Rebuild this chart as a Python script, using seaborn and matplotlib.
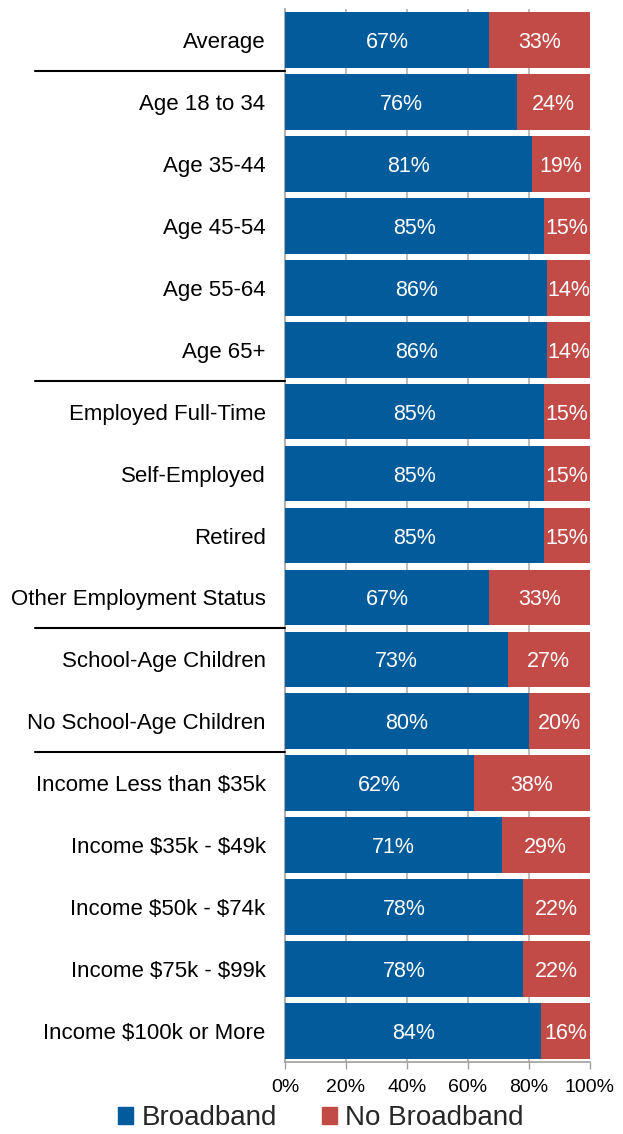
import matplotlib
matplotlib.use("Agg")
import matplotlib.pyplot as plt
import matplotlib.transforms as mtransforms
from matplotlib.patches import Patch
import seaborn as sns
import pandas as pd

categories = ["Average", "Age 18 to 34", "Age 35-44", "Age 45-54", "Age 55-64", "Age 65+",
              "Employed Full-Time", "Self-Employed", "Retired", "Other Employment Status",
              "School-Age Children", "No School-Age Children",
              "Income Less than $35k", "Income $35k - $49k", "Income $50k - $74k",
              "Income $75k - $99k", "Income $100k or More"]
broadband = [67, 76, 81, 85, 86, 86, 85, 85, 85, 67, 73, 80, 62, 71, 78, 78, 84]
no_broadband = [33, 24, 19, 15, 14, 14, 15, 15, 15, 33, 27, 20, 38, 29, 22, 22, 16]
x_ticks = [0, 20, 40, 60, 80, 100]
x_tick_labels = ["0%", "20%", "40%", "60%", "80%", "100%"]
group_breaks = [1, 6, 10, 12]  # index of first row of each new group

BLUE = "#025b9b"
RED = "#c24b47"

sns.set_theme(style="white")
plt.rcParams["font.family"] = ["Liberation Sans", "DejaVu Sans"]
plt.rcParams["text.parse_math"] = False

df = pd.DataFrame({"cat": categories, "bb": broadband, "nb": no_broadband})
df["total"] = df["bb"] + df["nb"]

fig = plt.figure(figsize=(6.23, 11.34), dpi=100)
ax = fig.add_axes([285 / 623, 72 / 1134, 305 / 623, (1125 - 72) / 1134])

for x in [20, 40, 60, 80]:
    ax.axvline(x, color="#b0b0b0", lw=1.2, zorder=0)

sns.barplot(data=df, y="cat", x="total", color=RED, orient="h", width=0.9,
            ax=ax, saturation=1, zorder=2, linewidth=0)
sns.barplot(data=df, y="cat", x="bb", color=BLUE, orient="h", width=0.9,
            ax=ax, saturation=1, zorder=3, linewidth=0)

for i, (b, n) in enumerate(zip(broadband, no_broadband)):
    ax.text(b / 2, i, f"{b}%", color="white", ha="center", va="center_baseline",
            fontsize=15.5, zorder=4)
    ax.text(b + n / 2, i, f"{n}%", color="white", ha="center", va="center_baseline",
            fontsize=15.5, zorder=4)

ax.set_xlim(0, 100)
ax.set_ylim(len(categories) - 0.5, -0.5)
ax.set_xticks(x_ticks)
ax.set_xticklabels(x_tick_labels, fontsize=14)
ax.set_xlabel("")
ax.set_ylabel("")
ax.tick_params(axis="y", length=0, pad=14, labelsize=16, labelcolor="black")
ax.tick_params(axis="x", length=5, width=1, color="#a0a0a0", bottom=True, pad=7, labelcolor="black")

for s in ["top", "right"]:
    ax.spines[s].set_visible(False)
for s in ["left", "bottom"]:
    ax.spines[s].set_color("#a0a0a0")
    ax.spines[s].set_linewidth(1.2)

trans = mtransforms.blended_transform_factory(ax.transAxes, ax.transData)
for g in group_breaks:
    ax.plot([(35 - 285) / 305, 0], [g - 0.5, g - 0.5], color="black", lw=1.5,
            transform=trans, clip_on=False, zorder=5)

handles = [Patch(color=BLUE, label="Broadband"), Patch(color=RED, label="No Broadband")]
fig.legend(handles=handles, loc="center", bbox_to_anchor=(0.515, 1 - 1118 / 1134), ncol=2,
           frameon=False, fontsize=20, handlelength=0.55, handleheight=0.55,
           handletextpad=0.3, columnspacing=1.6, borderaxespad=0)

fig.savefig("out.png", dpi=100)
